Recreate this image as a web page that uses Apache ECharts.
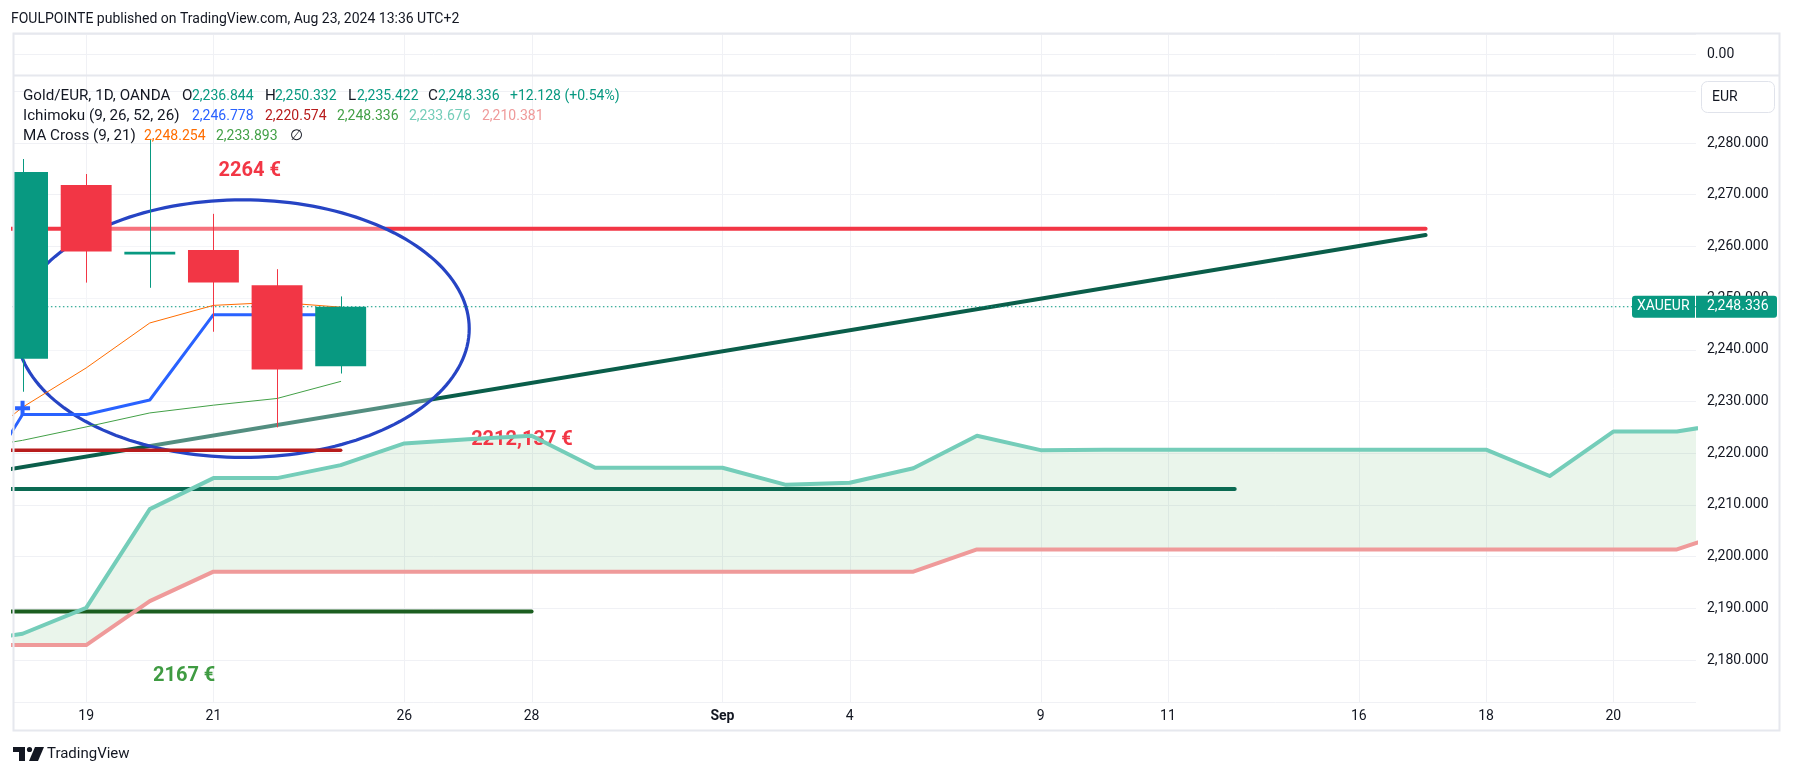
<!DOCTYPE html>
<html><head><meta charset="utf-8">
<script src="https://cdn.jsdelivr.net/npm/echarts@6/dist/echarts.min.js"></script>
<style>html,body{margin:0;padding:0;background:#fff;}#c{width:1794px;height:776px;}</style>
</head><body><div id="c"></div>
<script>
// ---------- data ----------
const dateIdx = [0, 2, 5, 7, 10, 12, 15, 17, 20, 22, 24];
const dateLabels = ['19', '21', '26', '28', 'Sep', '4', '9', '11', '16', '18', '20'];

const candleIdx = [-1, 0, 1, 2, 3, 4];
const candleOpen = [2238.3, 2271.9, 2258.6, 2259.3, 2252.5, 2236.844];
const candleClose = [2274.4, 2259.0, 2258.8, 2253.0, 2236.2, 2248.336];
const candleLow = [2231.9, 2253.0, 2252.0, 2243.5, 2225.0, 2235.422];
const candleHigh = [2276.9, 2274.0, 2280.8, 2266.3, 2255.6, 2250.332];

const lineIdx = [-2, -1, 0, 1, 2, 3, 4];
const conversionLine = [2207.5, 2227.5, 2227.5, 2230.3, 2246.8, 2246.8, 2246.778];
const ma9 = [2219.0, 2228.9, 2236.5, 2245.2, 2248.6, 2249.2, 2248.254];
const ma21 = [2220.5, 2222.5, 2225.1, 2227.8, 2229.3, 2230.6, 2233.893];
const baseIdx = [-2, 4];
const baseLine = [2220.574, 2220.574];

const cloudIdx = [-2, -1, 0, 1, 2, 3, 4, 5, 6, 7, 8, 9, 10, 11, 12, 13, 14, 15, 16, 17, 18, 19, 20, 21, 22, 23, 24, 25, 26];
const leadA = [2183.3, 2185.1, 2190.1, 2209.2, 2215.2, 2215.2, 2217.7, 2221.9, 2222.7, 2223.4, 2217.2, 2217.2, 2217.2, 2213.9, 2214.3, 2217.1, 2223.4, 2220.6, 2220.7, 2220.7, 2220.7, 2220.7, 2220.7, 2220.7, 2220.7, 2215.6, 2224.2, 2224.2, 2226.2];
const leadB = [2182.9, 2182.9, 2182.9, 2191.4, 2197.1, 2197.1, 2197.1, 2197.1, 2197.1, 2197.1, 2197.1, 2197.1, 2197.1, 2197.1, 2197.1, 2197.1, 2201.4, 2201.4, 2201.4, 2201.4, 2201.4, 2201.4, 2201.4, 2201.4, 2201.4, 2201.4, 2201.4, 2201.4, 2205.5];

const crossIdx = [-1];
const crossVal = [2228.7];

// drawings
const resistX = [-2, 21.05], resistY = [2263.4, 2263.4];
const trendX = [-2, 21.05], trendY = [2215.3, 2262.2];
const support1X = [-2, 18.05], support1Y = [2213.1, 2213.1];
const support2X = [-2, 7.0], support2Y = [2189.4, 2189.4];
const ellipseCenter = [2.46, 2244.1], ellipseRadius = [3.56, 24.9];
const annoText = ['2264 €', '2212,137 €', '2167 €'];
const annoX = [2.08, 6.05, 1.05];
const annoY = [2274.6, 2222.5, 2176.9];
const annoColor = ['#f23645', '#f23645', '#3f9b42'];

// ---------- chart ----------
const FONT = 'Roboto, "Noto Sans", sans-serif';
const X_MIN = -1.15, X_MAX = 25.3, Y_MIN = 2171.9, Y_MAX = 2293.15;
const fmt3 = v => v.toLocaleString('en-US', {minimumFractionDigits: 3, maximumFractionDigits: 3});
const zip = (xs, ys) => xs.map((x, i) => [x, ys[i]]);

const chart = echarts.init(document.getElementById('c'), null, {renderer: 'canvas', width: 1794, height: 776});

function vgrid(params, api) {
  const cs = params.coordSys;
  const x = Math.round(api.coord([api.value(0), Y_MIN])[0]) + 0.5;
  return {type: 'line', shape: {x1: x, y1: cs.y, x2: x, y2: cs.y + cs.height}, style: {stroke: '#f0f1f5', lineWidth: 1}};
}
function candle(params, api) {
  const cs = params.coordSys;
  const x = api.value(0), o = api.value(1), c = api.value(2), l = api.value(3), h = api.value(4);
  const pO = api.coord([x, o]), pC = api.coord([x, c]), pL = api.coord([x, l]), pH = api.coord([x, h]);
  const w = api.size([0.8, 0])[0];
  const color = c >= o ? '#089981' : '#f23645';
  let top = Math.min(pO[1], pC[1]), bot = Math.max(pO[1], pC[1]);
  if (bot - top < 2.6) { const m = (top + bot) / 2; top = m - 1.3; bot = m + 1.3; }
  const x0 = Math.max(pO[0] - w / 2, cs.x), x1 = Math.min(pO[0] + w / 2, cs.x + cs.width);
  const cx = Math.round(pO[0]) + 0.5;
  return {type: 'group', children: [
    {type: 'line', shape: {x1: cx, y1: pH[1], x2: cx, y2: pL[1]}, style: {stroke: color, lineWidth: 1}},
    {type: 'rect', shape: {x: x0, y: top, width: x1 - x0, height: bot - top}, style: {fill: color}}
  ]};
}
function cloud(params, api) {
  const cs = params.coordSys;
  const pts = [];
  cloudIdx.forEach((x, i) => pts.push(api.coord([x, leadA[i]])));
  for (let i = cloudIdx.length - 1; i >= 0; i--) pts.push(api.coord([cloudIdx[i], leadB[i]]));
  return {type: 'group', clipPath: {type: 'rect', shape: {x: cs.x, y: cs.y, width: cs.width, height: cs.height}},
    children: [{type: 'polygon', shape: {points: pts}, style: {fill: 'rgba(67,160,71,0.11)'}}]};
}
function ellipse(params, api) {
  const c = api.coord([api.value(0), api.value(1)]);
  const s = api.size([api.value(2), api.value(3)], [api.value(0), api.value(1)]);
  const pts = [];
  for (let k = 0; k < 180; k++) { const t = k / 180 * 2 * Math.PI; pts.push([c[0] + s[0] * Math.cos(t), c[1] + s[1] * Math.sin(t)]); }
  return {type: 'polygon', shape: {points: pts}, style: {fill: 'rgba(255,255,255,0.3)', stroke: '#2644c4', lineWidth: 3.2}};
}
const lineSeries = (name, data, color, width, z, extra) => Object.assign({
  type: 'line', name, data, xAxisIndex: 0, yAxisIndex: 0, showSymbol: false, symbol: 'none', silent: true, z,
  lineStyle: {color, width, cap: 'round', join: 'round'}, clip: true
}, extra || {});

const lastClose = candleClose[candleClose.length - 1];
const txt = (id, text, x, y, fill, size, weight, z) => ({
  type: 'text', id, x, y, z: z || 100,
  style: {text, fill, fontSize: size || 14, fontFamily: FONT, fontWeight: weight || 'normal', verticalAlign: 'middle', align: 'left'}
});

const option = {
  animation: false,
  backgroundColor: '#ffffff',
  textStyle: {fontFamily: FONT},
  grid: [
    {left: 13, top: 75, width: 1683, height: 627},
    {left: 13, top: 34, width: 1683, height: 41}
  ],
  xAxis: [
    {type: 'value', gridIndex: 0, min: X_MIN, max: X_MAX,
      axisLine: {show: false}, axisTick: {show: false}, splitLine: {show: false},
      axisLabel: {customValues: dateIdx, color: '#131722', fontSize: 14, margin: 7, fontFamily: FONT,
        formatter: v => { const i = dateIdx.findIndex(d => Math.abs(d - v) < 1e-6); const s = i >= 0 ? dateLabels[i] : ''; return s === 'Sep' ? '{b|Sep}' : s; },
        rich: {b: {fontWeight: 'bold', fontSize: 14, color: '#131722', fontFamily: FONT}}}},
    {type: 'value', gridIndex: 1, min: X_MIN, max: X_MAX, show: false}
  ],
  yAxis: [
    {type: 'value', gridIndex: 0, position: 'right', min: Y_MIN, max: Y_MAX, splitNumber: 12,
      axisLine: {show: false}, axisTick: {show: false},
      splitLine: {lineStyle: {color: '#f0f1f5', width: 1}},
      axisLabel: {showMinLabel: false, showMaxLabel: false, margin: 11, color: '#131722', fontSize: 14, fontFamily: FONT,
        formatter: v => (v > 2285 || v < 2175) ? '' : fmt3(v)}},
    {type: 'value', gridIndex: 1, position: 'right', min: -1, max: 1, interval: 1,
      axisLine: {show: false}, axisTick: {show: false},
      splitLine: {lineStyle: {color: '#f0f1f5', width: 1}},
      axisLabel: {margin: 11, color: '#131722', fontSize: 14, fontFamily: FONT, formatter: v => v === 0 ? '0.00' : ''}}
  ],
  series: [
    {type: 'custom', name: 'vgrid', xAxisIndex: 0, yAxisIndex: 0, data: dateIdx.map(d => [d]), renderItem: vgrid, silent: true, z: 0},
    {type: 'custom', name: 'vgridTop', xAxisIndex: 1, yAxisIndex: 1, data: dateIdx.map(d => [d]), renderItem: vgrid, silent: true, z: 0},
    {type: 'custom', name: 'cloud', xAxisIndex: 0, yAxisIndex: 0, data: [[cloudIdx[0], leadA[0]]], renderItem: cloud, silent: true, z: 1},
    lineSeries('support 2189', zip(support2X, support2Y), '#1b5e20', 4, 2),
    lineSeries('support 2213', zip(support1X, support1Y), '#0b6a52', 4, 2),
    lineSeries('resistance 2264', zip(resistX, resistY), '#f23645', 4, 2),
    lineSeries('trend', zip(trendX, trendY), '#0a5e4a', 4, 2),
    {type: 'scatter', name: 'notes', xAxisIndex: 0, yAxisIndex: 0, symbolSize: 0, silent: true, z: 2,
      itemStyle: {opacity: 1},
      data: annoText.map((t, i) => ({value: [annoX[i], annoY[i]], label: {color: annoColor[i]}})),
      label: {show: true, position: 'inside', align: 'left', verticalAlign: 'middle', fontSize: 20, fontWeight: 'bold', fontFamily: FONT,
        formatter: p => annoText[p.dataIndex]}},
    {type: 'custom', name: 'ellipse', xAxisIndex: 0, yAxisIndex: 0, data: [[ellipseCenter[0], ellipseCenter[1], ellipseRadius[0], ellipseRadius[1]]], renderItem: ellipse, silent: true, z: 3},
    lineSeries('Leading Span A', zip(cloudIdx, leadA), '#74cdb9', 4, 4),
    lineSeries('Leading Span B', zip(cloudIdx, leadB), '#ef9a9a', 4, 4),
    lineSeries('close', [[-2, lastClose], [27, lastClose]], '#089981', 1, 4, {lineStyle: {color: '#089981', width: 1, type: [1.5, 2.5]}}),
    lineSeries('Base Line', zip(baseIdx, baseLine), '#b71c1c', 3.5, 5),
    lineSeries('Conversion Line', zip(lineIdx, conversionLine), '#2962ff', 3, 5),
    lineSeries('MA 9', zip(lineIdx, ma9), '#ff6d00', 1, 5),
    lineSeries('MA 21', zip(lineIdx, ma21), '#43a047', 1, 5),
    {type: 'custom', name: 'Gold/EUR', xAxisIndex: 0, yAxisIndex: 0, renderItem: candle, z: 6,
      encode: {x: 0, y: [1, 2, 3, 4]},
      data: candleIdx.map((x, i) => [x, candleOpen[i], candleClose[i], candleLow[i], candleHigh[i]])},
    {type: 'scatter', name: 'cross', xAxisIndex: 0, yAxisIndex: 0, silent: true, z: 7,
      symbol: 'path://M0,5.5L15,5.5L15,9.5L0,9.5Z M5.5,0L9.5,0L9.5,15L5.5,15Z', symbolSize: 15,
      itemStyle: {color: '#2962ff', opacity: 1}, data: zip(crossIdx, crossVal)}
  ],
  graphic: {elements: [
    {type: 'rect', id: 'frame', z: 100, shape: {x: 13.5, y: 33.5, width: 1766, height: 697}, style: {fill: 'none', stroke: '#e6e8ee', lineWidth: 2}},
    {type: 'line', id: 'sep', z: 100, shape: {x1: 13, y1: 75.5, x2: 1780, y2: 75.5}, style: {stroke: '#e6e8ee', lineWidth: 2}},
    txt('title', 'FOULPOINTE published on TradingView.com, Aug 23, 2024 13:36 UTC+2', 11, 19, '#131722', 14),
    txt('l1a', 'Gold/EUR, 1D, OANDA', 23, 96, '#131722', 15.2),
    txt('l1o', 'O', 182, 96, '#131722', 15.2), txt('l1ov', '2,236.844', 192, 96, '#089981'),
    txt('l1h', 'H', 265, 96, '#131722', 15.2), txt('l1hv', '2,250.332', 275, 96, '#089981'),
    txt('l1l', 'L', 348, 96, '#131722', 15.2), txt('l1lv', '2,235.422', 357, 96, '#089981'),
    txt('l1c', 'C', 428, 96, '#131722', 15.2), txt('l1cv', '2,248.336', 438, 96, '#089981'),
    txt('l1ch', '+12.128 (+0.54%)', 510, 96, '#089981'),
    txt('l2a', 'Ichimoku (9, 26, 52, 26)', 23, 116, '#131722', 15.2),
    txt('l2b', '2,246.778', 192, 116, '#2962ff'),
    txt('l2c', '2,220.574', 265, 116, '#b71c1c'),
    txt('l2d', '2,248.336', 337, 116, '#43a047'),
    txt('l2e', '2,233.676', 409, 116, '#74cdb9'),
    txt('l2f', '2,210.381', 482, 116, '#ef9a9a'),
    txt('l3a', 'MA Cross (9, 21)', 23, 136, '#131722', 15.2),
    txt('l3b', '2,248.254', 144, 136, '#ff6d00'),
    txt('l3c', '2,233.893', 216, 136, '#43a047'),
    txt('l3d', '∅', 290, 136, '#131722', 15.2),
    {type: 'rect', id: 'eurbox', z: 100, shape: {x: 1701.5, y: 81.5, width: 73, height: 31, r: 6}, style: {fill: '#fff', stroke: '#e0e3eb', lineWidth: 1}},
    txt('eur', 'EUR', 1712, 97, '#131722', 14, 'normal', 101),
    {type: 'polygon', id: 'logo1', z: 100, shape: {points: [[13, 747], [25, 747], [25, 761], [19, 761], [19, 752], [13, 752]]}, style: {fill: '#131722'}},
    {type: 'circle', id: 'logo2', z: 100, shape: {cx: 29.5, cy: 749.5, r: 2.6}, style: {fill: '#131722'}},
    {type: 'polygon', id: 'logo3', z: 100, shape: {points: [[35, 747], [44, 747], [38, 761], [29, 761]]}, style: {fill: '#131722'}},
    txt('tv', 'TradingView', 47, 754, '#131722', 15)
  ]}
};
chart.setOption(option);

// price label on the axis, placed from the close value through the y scale
const yC = chart.convertToPixel({yAxisIndex: 0}, lastClose);
const xR = chart.convertToPixel({xAxisIndex: 0}, X_MAX);
chart.setOption({graphic: {elements: [
  {type: 'rect', id: 'symbox', z: 101, shape: {x: xR - 64, y: yC - 11, width: 63, height: 22, r: [3, 0, 0, 3]}, style: {fill: '#089981'}},
  txt('sym', 'XAUEUR', xR - 59, yC, '#ffffff', 14, 'normal', 103),
  {type: 'rect', id: 'pricebox', z: 101, shape: {x: xR, y: yC - 11, width: 81, height: 22, r: [0, 3, 3, 0]}, style: {fill: '#089981'}},
  txt('price', fmt3(lastClose), xR + 11, yC, '#ffffff', 14, 'normal', 103)
]}});
</script>
</body></html>
